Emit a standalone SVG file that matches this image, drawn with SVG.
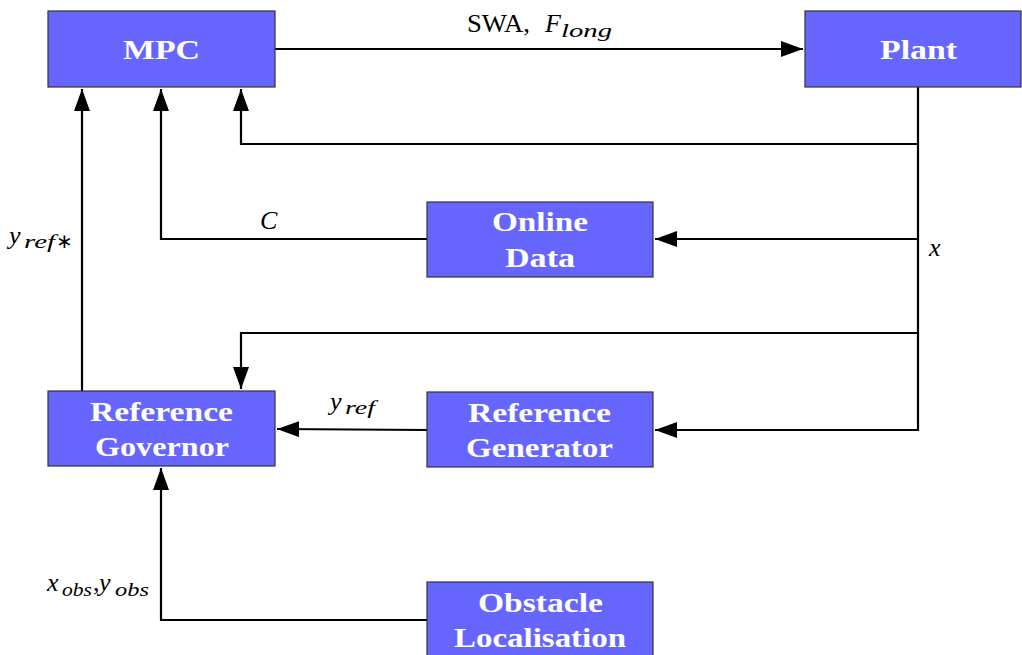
<svg xmlns="http://www.w3.org/2000/svg" width="1022" height="655" viewBox="0 0 1022 655">
<style>
.box{fill:#6666ff;stroke:#333;stroke-width:1.2}
.lbl{font-family:"Liberation Serif",serif;font-weight:bold;font-size:28px;fill:#fff;text-anchor:middle}
.c{fill:none;stroke:#000;stroke-width:2.2}
.m{font-family:"Liberation Serif",serif;font-size:26px;fill:#000}
.i{font-style:italic}
.s{font-size:19px}
</style>
<defs>
<marker id="ah" markerUnits="userSpaceOnUse" markerWidth="24" markerHeight="18" refX="22" refY="8" orient="auto">
<path d="M0,0 L22,8 L0,16 z" fill="#000"/>
</marker>
</defs>
<g id="connectors">
<path class="c" d="M275,49 H803" marker-end="url(#ah)"/>
<path class="c" d="M918,87 V430 H655" marker-end="url(#ah)"/>
<path class="c" d="M918,144 H241 V89" marker-end="url(#ah)"/>
<path class="c" d="M918,239 H655" marker-end="url(#ah)"/>
<path class="c" d="M427,239 H161 V89" marker-end="url(#ah)"/>
<path class="c" d="M918,333 H241 V389" marker-end="url(#ah)"/>
<path class="c" d="M427,430 L277,429" marker-end="url(#ah)"/>
<path class="c" d="M82,391 V89" marker-end="url(#ah)"/>
<path class="c" d="M427,620 H161 V468" marker-end="url(#ah)"/>
</g>
<g id="mpc"><rect class="box" x="48" y="11" width="227" height="76"/><text class="lbl" x="161.5" y="59" textLength="77" lengthAdjust="spacingAndGlyphs">MPC</text></g>
<g id="plant"><rect class="box" x="805" y="11" width="216" height="76"/><text class="lbl" x="918.5" y="59" textLength="77" lengthAdjust="spacingAndGlyphs">Plant</text></g>
<g id="online-data"><rect class="box" x="427" y="202" width="226" height="75"/><text class="lbl" x="540" y="231" textLength="96" lengthAdjust="spacingAndGlyphs">Online</text><text class="lbl" x="540" y="267" textLength="70" lengthAdjust="spacingAndGlyphs">Data</text></g>
<g id="reference-governor"><rect class="box" x="48" y="391" width="227" height="75"/><text class="lbl" x="161.5" y="421" textLength="143" lengthAdjust="spacingAndGlyphs">Reference</text><text class="lbl" x="162" y="456" textLength="134" lengthAdjust="spacingAndGlyphs">Governor</text></g>
<g id="reference-generator"><rect class="box" x="427" y="392" width="226" height="75"/><text class="lbl" x="539.5" y="422" textLength="143" lengthAdjust="spacingAndGlyphs">Reference</text><text class="lbl" x="539.5" y="457" textLength="147" lengthAdjust="spacingAndGlyphs">Generator</text></g>
<g id="obstacle-localisation"><rect class="box" x="427" y="582" width="226" height="80"/><text class="lbl" x="540.5" y="612" textLength="125" lengthAdjust="spacingAndGlyphs">Obstacle</text><text class="lbl" x="540" y="647" textLength="172" lengthAdjust="spacingAndGlyphs">Localisation</text></g>
<g id="labels">
<text class="m" y="32"><tspan x="467" textLength="63" lengthAdjust="spacingAndGlyphs">SWA,</tspan><tspan class="i" x="545">F</tspan><tspan class="i s" x="561" dy="5" textLength="51" lengthAdjust="spacingAndGlyphs">long</tspan></text>
<text class="m i" x="260" y="229" font-size="27">C</text>
<text class="m i" x="929" y="256">x</text>
<text class="m" y="244"><tspan class="i" x="9">y</tspan><tspan class="i s" x="24" dy="4" textLength="31" lengthAdjust="spacingAndGlyphs">ref</tspan><tspan x="56" font-size="20">∗</tspan></text>
<text class="m" y="410"><tspan class="i" x="330">y</tspan><tspan class="i s" x="345" dy="4" textLength="30" lengthAdjust="spacingAndGlyphs">ref</tspan></text>
<text class="m" y="591"><tspan class="i" x="47">x</tspan><tspan class="i s" x="62" dy="5" textLength="30" lengthAdjust="spacingAndGlyphs">obs</tspan><tspan x="93" dy="-5">,</tspan><tspan class="i" x="99">y</tspan><tspan class="i s" x="115" dy="5" textLength="34" lengthAdjust="spacingAndGlyphs">obs</tspan></text>
</g>
</svg>
